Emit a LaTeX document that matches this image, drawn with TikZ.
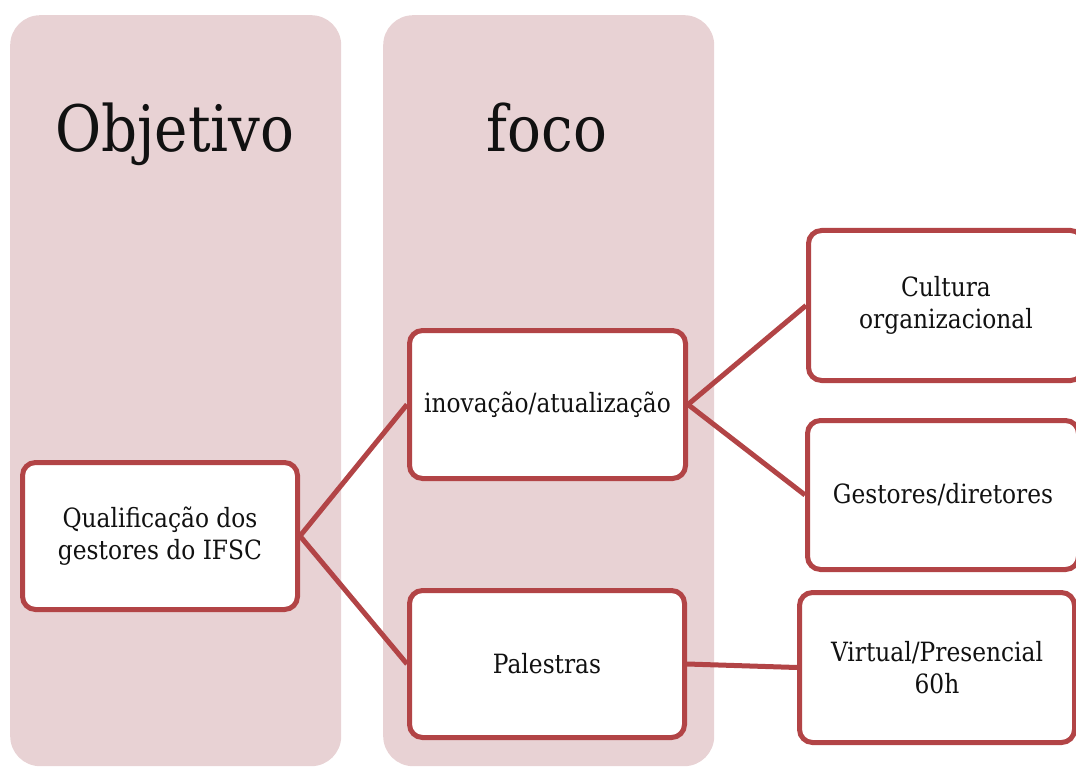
\documentclass[tikz,border=0pt]{standalone}
\usepackage{fontspec}
\setmainfont{DejaVu Serif}[FakeStretch=0.88]
\newfontfamily\titlefont{DejaVu Serif}[FakeStretch=0.88]
\definecolor{colfill}{HTML}{E8D2D4}
\definecolor{boxred}{HTML}{B24446}
\definecolor{textcol}{HTML}{111111}
\begin{document}
\begin{tikzpicture}[x=1pt,y=-1pt,
  col/.style={fill=colfill, rounded corners=30pt, inner sep=0pt, anchor=north west},
  coltitle/.style={font=\titlefont\fontsize{64}{70}\selectfont, text=textcol, anchor=base},
  box/.style={draw=boxred, line width=5pt, fill=white, rounded corners=13pt, align=center,
    font=\fontsize{26.5}{31.5}\selectfont, text=textcol, inner sep=0pt},
  link/.style={draw=boxred, line width=5pt}]
\path[use as bounding box] (0,0) rectangle (1076,767);
\clip (0,0) rectangle (1076,767);
\node[col, minimum width=331pt, minimum height=751pt] (c1) at (10,15) {};
\node[col, minimum width=331pt, minimum height=751pt] (c2) at (383,15) {};
\node[coltitle] (t1) at (175,152) {Objetivo};
\node[coltitle] (t2) at (547,152) {foco};
\node[box, minimum width=275pt, minimum height=147pt] (q) at (160,536) {Qualificação dos\\gestores do IFSC};
\node[box, minimum width=276pt, minimum height=148pt] (inov) at (547.5,404.5) {inovação/atualização};
\node[box, minimum width=275pt, minimum height=147pt] (pal) at (547,664) {Palestras};
\node[box, minimum width=275pt, minimum height=150pt] (cult) at (946,305.5) {Cultura\\organizacional};
\node[box, minimum width=271pt, minimum height=149pt] (gest) at (943,495) {Gestores/diretores};
\node[box, minimum width=275pt, minimum height=150pt] (virt) at (937,667.5) {Virtual/Presencial\\60h};
\draw[link] (q.east) -- (inov.west);
\draw[link] (q.east) -- (pal.west);
\draw[link] (inov.east) -- (cult.west);
\draw[link] (inov.east) -- (gest.west);
\draw[link] (pal.east) -- (virt.west);
\end{tikzpicture}
\end{document}
